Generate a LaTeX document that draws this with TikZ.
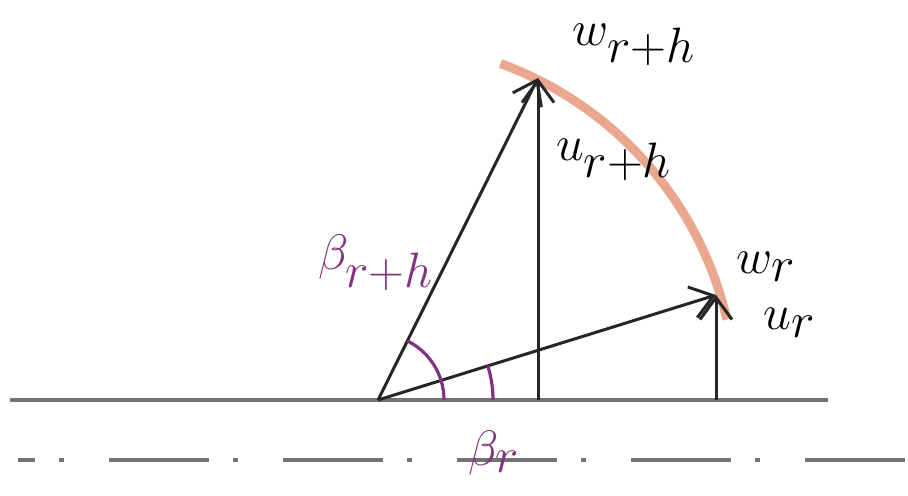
\documentclass[tikz,border=0pt]{standalone}
\usepackage{amsmath}
\usetikzlibrary{arrows.meta,calc}
\tikzset{vec/.style={-{Straight Barb[length=11pt,width=16pt,line width=1.5pt]},line width=1.5pt,black!85}}
\tikzset{ang/.style={line width=1.6pt,violet!75!black!80}}
\tikzset{lbl/.style={font=\fontsize{36}{40}\selectfont}}
\tikzset{axis/.style={line width=2pt,black!55}}
\definecolor{arcorange}{RGB}{232,150,125}

\begin{document}
\begin{tikzpicture}[x=0.5pt,y=0.5pt]
    \useasboundingbox (0,0) rectangle (908,495);
    % points
    \coordinate (O) at (378,95);
    \coordinate (T) at (538,417);
    \coordinate (W) at (716,200);
    \coordinate (F1) at (538,95);
    \coordinate (F2) at (716,95);
    \coordinate (g0) at (10,95);
    \coordinate (g1) at (828,95);
    \coordinate (d0) at (18,35);
    \coordinate (d1) at (905,35);
    % lines
    \draw [axis] (g0) -- (g1);
    \draw [axis,line width=2.2pt,dash pattern=on 50pt off 12pt on 2.5pt off 22.5pt,dash phase=41.5pt] (d0) -- (d1);
    \draw [arcorange,line width=4.5pt,opacity=0.85] ($(O)+(70:358)$) arc[start angle=70,end angle=13,radius=358];
    \draw [vec] (O) -- (T);
    \draw [vec] (F1) -- (T);
    \draw [vec] (O) -- (W);
    \draw [vec] (F2) -- (W);
    % angles
    \draw [ang] ($(O)+(63.6:66)$) arc[start angle=63.6,end angle=0,radius=66];
    \draw [ang] ($(O)+(17.3:115)$) arc[start angle=17.3,end angle=0,radius=115];
    % labels
    \node [lbl] (wrh) at (634,450) {$w_{r+h}$};
    \node [lbl] (urh) at (614,335) {$u_{r+h}$};
    \node [lbl,text=violet!75!black!80] (brh) at (376,232) {$\beta_{r+h}$};
    \node [lbl] (wr) at (766,228) {$w_r$};
    \node [lbl] (ur) at (790,172) {$u_r$};
    \node [lbl,text=violet!75!black!80] (br) at (494,42) {$\beta_r$};
\end{tikzpicture}
\end{document}
